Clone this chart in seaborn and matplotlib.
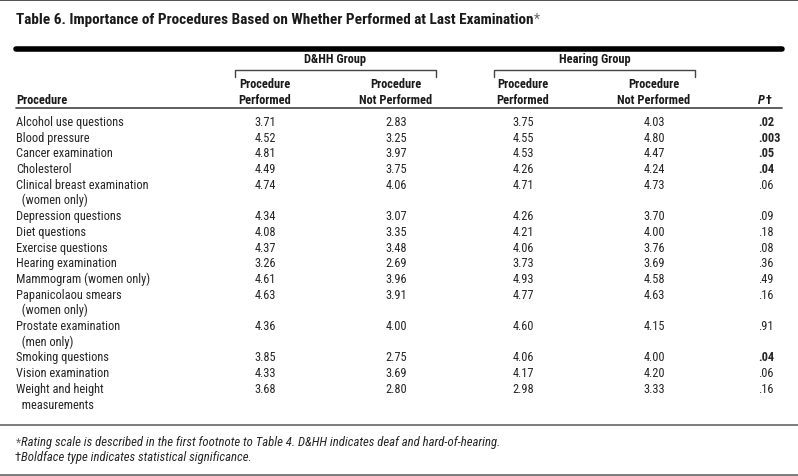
import numpy as np
import matplotlib.pyplot as plt
from matplotlib import font_manager
import seaborn as sns

# table content
procedures = [
    "Alcohol use questions", "Blood pressure", "Cancer examination", "Cholesterol",
    "Clinical breast examination\n  (women only)", "Depression questions", "Diet questions",
    "Exercise questions", "Hearing examination", "Mammogram (women only)",
    "Papanicolaou smears\n  (women only)", "Prostate examination\n  (men only)",
    "Smoking questions", "Vision examination", "Weight and height\n  measurements",
]
dhh_performed = [3.71, 4.52, 4.81, 4.49, 4.74, 4.34, 4.08, 4.37, 3.26, 4.61, 4.63, 4.36, 3.85, 4.33, 3.68]
dhh_not_performed = [2.83, 3.25, 3.97, 3.75, 4.06, 3.07, 3.35, 3.48, 2.69, 3.96, 3.91, 4.00, 2.75, 3.69, 2.80]
hearing_performed = [3.75, 4.55, 4.53, 4.26, 4.71, 4.26, 4.21, 4.06, 3.73, 4.93, 4.77, 4.60, 4.06, 4.17, 2.98]
hearing_not_performed = [4.03, 4.80, 4.47, 4.24, 4.73, 3.70, 4.00, 3.76, 3.69, 4.58, 4.63, 4.15, 4.00, 4.20, 3.33]
p_values = [".02", ".003", ".05", ".04", ".06", ".09", ".18", ".08", ".36", ".49", ".16", ".91", ".04", ".06", ".16"]
significant = [True, True, True, True, False, False, False, False, False, False, False, False, True, False, False]

title = "Table 6. Importance of Procedures Based on Whether Performed at Last Examination"
groups = ["D&HH Group", "Hearing Group"]
col_headers = ["Procedure\nPerformed", "Procedure\nNot Performed"] * 2
footnotes = [
    "Rating scale is described in the first footnote to Table 4. D&HH indicates deaf and hard-of-hearing.",
    "Boldface type indicates statistical significance.",
]

sns.set_theme(style="white")
# narrow face if one is installed
installed = {f.name for f in font_manager.fontManager.ttflist}
family = "Liberation Sans"
for cand in ["Liberation Sans Narrow", "Roboto Condensed", "DejaVu Sans Condensed"]:
    if cand in installed:
        family = cand
        break
plt.rcParams["font.family"] = [family, "DejaVu Sans"]
plt.rcParams["text.color"] = "#1a1a1a"

W, H = 798, 477
fig = plt.figure(figsize=(W / 100, H / 100), dpi=100)
ax = fig.add_axes([0, 0, 1, 1])
ax.set_xlim(0, W)
ax.set_ylim(H, 0)
ax.axis("off")

fs = 8.9
text_col = "#262626"
left = 16
col_x = [265, 396, 523, 654]
p_x = 758
row_h = 15.7
y0 = 126

# title, with its footnote mark right after it
t = ax.text(left, 24, title, fontsize=10.95, fontweight="bold", va="baseline")
ax.annotate("*", xy=(1, 0.5), xycoords=t, xytext=(0.3, 0), textcoords="offset points",
            fontsize=10, va="center", color="#666666")

# rules
ax.plot([0, W], [0.5, 0.5], color="#333333", lw=1.2)
ax.plot([left, 782], [50, 50], color="black", lw=4)
ax.plot([left, 782], [109, 109], color="#444444", lw=1.2)
ax.plot([0, W], [426, 426], color="#666666", lw=1.2)
ax.plot([0, W], [476, 476], color="#666666", lw=1.2)

# group headers with brackets
for g, (x0, x1) in zip(groups, [(235, 436), (494, 695)]):
    ax.text((x0 + x1) / 2, 63, g, fontsize=fs, fontweight="bold", ha="center", va="baseline")
    ax.plot([x0, x0, x1, x1], [78, 71, 71, 78], color="#444444", lw=1)

# column headers
ax.text(left, 104, "Procedure", fontsize=fs, fontweight="bold", va="baseline")
for x, h in zip(col_x, col_headers):
    ax.text(x, 104, h, fontsize=fs, fontweight="bold", ha="center", va="baseline",
            multialignment="center", linespacing=1.35)
ph = ax.text(p_x, 104, "P", fontsize=fs, fontweight="bold", style="italic", va="baseline")
ax.annotate("\u2020", xy=(1, 0), xycoords=ph, xytext=(0.5, 0), textcoords="offset points",
            fontsize=fs, fontweight="bold", va="bottom")

# body rows
y = y0
for i, name in enumerate(procedures):
    lines = name.split("\n")
    for k, ln in enumerate(lines):
        ax.text(left, y + k * row_h, ln, fontsize=fs, va="baseline", color=text_col)
    vals = [dhh_performed[i], dhh_not_performed[i], hearing_performed[i], hearing_not_performed[i]]
    for x, v in zip(col_x, vals):
        ax.text(x, y, f"{v:.2f}", fontsize=fs, ha="center", va="baseline", color=text_col)
    ax.text(p_x, y, p_values[i], fontsize=fs, va="baseline",
            fontweight="bold" if significant[i] else "normal", color=text_col)
    y += row_h * len(lines)

# footnotes
ax.text(left, 447, "*", fontsize=8.5, va="baseline", color="#666666")
ax.text(left + 5, 446, footnotes[0], fontsize=9.2, style="italic", va="baseline", color=text_col)
ax.text(left - 1, 461, "\u2020", fontsize=9.2, va="baseline", color=text_col)
ax.text(left + 5, 461, footnotes[1], fontsize=9.2, style="italic", va="baseline", color=text_col)

fig.savefig("out.png", dpi=100)
